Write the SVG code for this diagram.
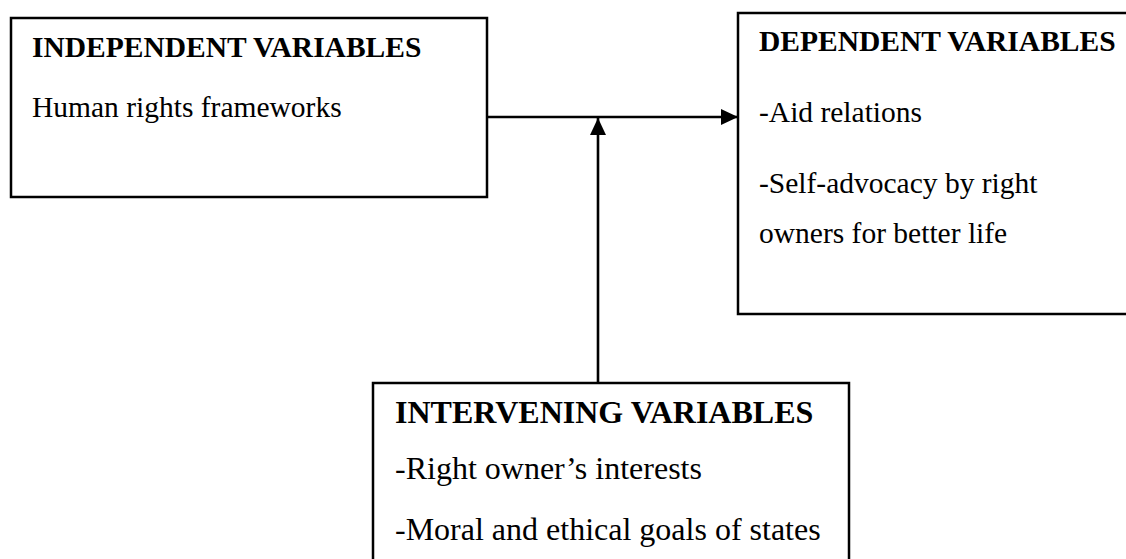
<svg xmlns="http://www.w3.org/2000/svg" width="1126" height="559" viewBox="0 0 1126 559">
<style>
.box{fill:#fff;stroke:#000;stroke-width:2.5}
.t{font-family:"Liberation Serif","Times New Roman",serif;fill:#000;font-size:29.5px}
.b{font-weight:bold}
.big{font-size:32px}
.c{stroke:#000;stroke-width:2.6;fill:none}
</style>
<defs>
<marker id="ah" markerUnits="userSpaceOnUse" markerWidth="18" markerHeight="16" refX="17" refY="8" orient="auto">
<path d="M0,0 L17,8 L0,16 Z" fill="#000"/>
</marker>
</defs>
<rect width="1126" height="559" fill="#fff"/>
<g id="independent">
<rect class="box" x="11" y="18" width="476" height="179"/>
<text class="t b" x="32" y="57">INDEPENDENT VARIABLES</text>
<text class="t" x="32" y="117">Human rights frameworks</text>
</g>
<g id="dependent">
<rect class="box" x="738" y="13" width="400" height="301"/>
<text class="t b" x="759" y="51">DEPENDENT VARIABLES</text>
<text class="t" x="759" y="122">-Aid relations</text>
<text class="t" x="759" y="193">-Self-advocacy by right</text>
<text class="t" x="759" y="243">owners for better life</text>
</g>
<g id="intervening">
<rect class="box" x="373" y="383" width="476" height="190"/>
<text class="t b big" x="395" y="423">INTERVENING VARIABLES</text>
<text class="t big" x="395" y="479">-Right owner’s interests</text>
<text class="t big" x="395" y="540">-Moral and ethical goals of states</text>
</g>
<g id="connectors">
<line class="c" x1="487" y1="117" x2="738" y2="117" marker-end="url(#ah)"/>
<line class="c" x1="598" y1="383" x2="598" y2="118" marker-end="url(#ah)"/>
</g>
</svg>
